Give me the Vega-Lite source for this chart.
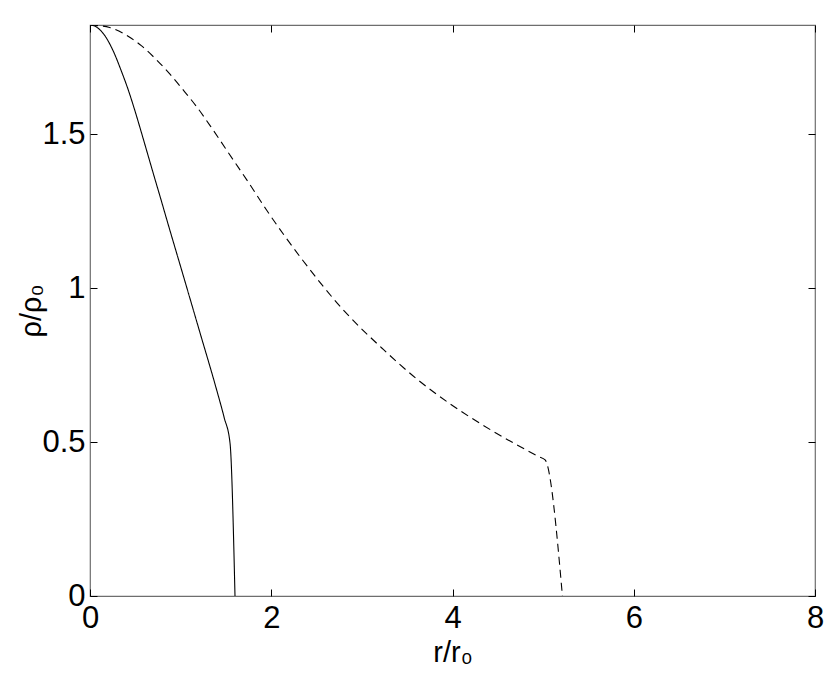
{
  "$schema": "https://vega.github.io/schema/vega-lite/v6.json",
  "autosize": "none",
  "width": 725,
  "height": 571,
  "padding": {"left": 90, "top": 25, "right": 15, "bottom": 80},
  "background": "white",
  "config": {
    "view": {"stroke": "#6e6e6e", "strokeWidth": 1.2},
    "font": "Liberation Sans",
    "axis": {
      "domain": false,
      "grid": false,
      "tickColor": "#000000",
      "tickSize": -7,
      "tickWidth": 1,
      "labelFont": "Liberation Sans",
      "labelFontSize": 31,
      "labelColor": "#000000",
      "labelFlush": false,
      "titleFont": "Liberation Sans",
      "titleFontSize": 29,
      "titleFontWeight": "normal",
      "titleColor": "#000000"
    }
  },
  "data": {
    "values": [
      {"r": 0.0, "rho": 1.855, "curve": "solid"},
      {"r": 0.05, "rho": 1.852, "curve": "solid"},
      {"r": 0.1, "rho": 1.842, "curve": "solid"},
      {"r": 0.16, "rho": 1.822, "curve": "solid"},
      {"r": 0.254, "rho": 1.772, "curve": "solid"},
      {"r": 0.345, "rho": 1.706, "curve": "solid"},
      {"r": 0.42, "rho": 1.646, "curve": "solid"},
      {"r": 0.49, "rho": 1.582, "curve": "solid"},
      {"r": 0.566, "rho": 1.507, "curve": "solid"},
      {"r": 0.64, "rho": 1.432, "curve": "solid"},
      {"r": 0.714, "rho": 1.357, "curve": "solid"},
      {"r": 0.787, "rho": 1.284, "curve": "solid"},
      {"r": 0.842, "rho": 1.228, "curve": "solid"},
      {"r": 1.03, "rho": 1.04, "curve": "solid"},
      {"r": 1.214, "rho": 0.855, "curve": "solid"},
      {"r": 1.398, "rho": 0.669, "curve": "solid"},
      {"r": 1.48, "rho": 0.58, "curve": "solid"},
      {"r": 1.545, "rho": 0.497, "curve": "solid"},
      {"r": 1.6, "rho": 0.0, "curve": "solid"},
      {"r": 0.0, "rho": 1.855, "curve": "dashed"},
      {"r": 0.217, "rho": 1.847, "curve": "dashed"},
      {"r": 0.438, "rho": 1.815, "curve": "dashed"},
      {"r": 0.566, "rho": 1.788, "curve": "dashed"},
      {"r": 0.75, "rho": 1.737, "curve": "dashed"},
      {"r": 0.88, "rho": 1.696, "curve": "dashed"},
      {"r": 1.045, "rho": 1.638, "curve": "dashed"},
      {"r": 1.173, "rho": 1.591, "curve": "dashed"},
      {"r": 1.358, "rho": 1.514, "curve": "dashed"},
      {"r": 1.582, "rho": 1.416, "curve": "dashed"},
      {"r": 1.73, "rho": 1.352, "curve": "dashed"},
      {"r": 1.95, "rho": 1.253, "curve": "dashed"},
      {"r": 2.318, "rho": 1.102, "curve": "dashed"},
      {"r": 2.815, "rho": 0.923, "curve": "dashed"},
      {"r": 3.237, "rho": 0.801, "curve": "dashed"},
      {"r": 3.606, "rho": 0.705, "curve": "dashed"},
      {"r": 3.974, "rho": 0.624, "curve": "dashed"},
      {"r": 4.341, "rho": 0.554, "curve": "dashed"},
      {"r": 4.71, "rho": 0.491, "curve": "dashed"},
      {"r": 4.95, "rho": 0.453, "curve": "dashed"},
      {"r": 5.022, "rho": 0.442, "curve": "dashed"},
      {"r": 5.213, "rho": 0.0, "curve": "dashed"}
    ]
  },
  "layer": [
    {
      "mark": {"type": "line", "color": "#000000", "strokeWidth": 1.1, "interpolate": "monotone", "clip": true},
      "encoding": {
        "x": {
          "field": "r", "type": "quantitative",
          "scale": {"domain": [0, 8], "nice": false, "zero": false},
          "axis": {"orient": "bottom", "values": [0, 2, 4, 6, 8], "format": "~g", "labelPadding": 14, "title": "r/r₀", "titleX": 362.5, "titleY": 65, "titleBaseline": "alphabetic", "titleAlign": "center"}
        },
        "y": {
          "field": "rho", "type": "quantitative",
          "scale": {"domain": [0, 1.855], "nice": false, "zero": false},
          "axis": {"orient": "left", "values": [0, 0.5, 1, 1.5], "format": "~g", "labelPadding": 12, "title": "ρ/ρ₀", "titleX": -50, "titleY": 285.5, "titleAngle": -90, "titleBaseline": "alphabetic", "titleAlign": "center"}
        },
        "detail": {"field": "curve"},
        "strokeDash": {
          "field": "curve", "type": "nominal",
          "scale": {"domain": ["solid", "dashed"], "range": [[1, 0], [8, 5]]},
          "legend": null
        }
      }
    },
    {
      "mark": {"type": "line", "opacity": 0},
      "encoding": {
        "x": {
          "field": "r", "type": "quantitative",
          "axis": {"orient": "top", "values": [0, 2, 4, 6, 8], "labels": false, "title": null}
        },
        "y": {
          "field": "rho", "type": "quantitative",
          "axis": {"orient": "right", "values": [0, 0.5, 1, 1.5], "labels": false, "title": null}
        }
      }
    }
  ],
  "resolve": {"axis": {"x": "independent", "y": "independent"}}
}
